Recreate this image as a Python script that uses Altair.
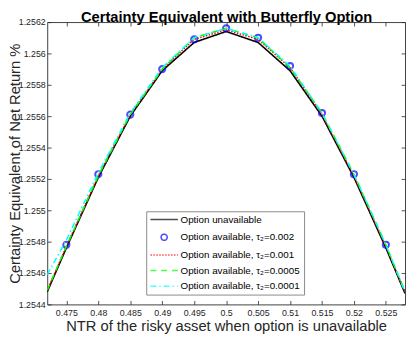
import altair as alt
import pandas as pd

# ---------------- data ----------------
x_line = [0.472, 0.475, 0.48, 0.485, 0.49, 0.495, 0.5, 0.505, 0.51, 0.515, 0.52, 0.525, 0.528]
ce_unavailable = [1.25448, 1.25476, 1.25521, 1.25560, 1.25589, 1.25607, 1.25614,
                  1.25607, 1.25589, 1.25560, 1.25521, 1.25476, 1.25447]
ce_tau_001 = [1.25449, 1.25477, 1.25522, 1.25561, 1.25590, 1.25609, 1.25615,
              1.25609, 1.25591, 1.25561, 1.25522, 1.25477, 1.25448]
ce_tau_0005 = [1.25449, 1.25477, 1.25522, 1.25561, 1.25590, 1.25610, 1.25616,
               1.25610, 1.25591, 1.25562, 1.25523, 1.25478, 1.25448]
ce_tau_0001 = [1.25459, 1.25481, 1.25524, 1.25562, 1.25591, 1.25610, 1.25616,
               1.25610, 1.25592, 1.25562, 1.25523, 1.25478, 1.25448]

x_points = [0.475, 0.48, 0.485, 0.49, 0.495, 0.5, 0.505, 0.51, 0.515, 0.52, 0.525]
ce_tau_002 = [1.25478, 1.25523, 1.25561, 1.25590, 1.25609, 1.25616,
              1.25610, 1.25592, 1.25562, 1.25523, 1.25478]

series = [
    "Option unavailable",
    "Option available, τ₂=0.002",
    "Option available, τ₂=0.001",
    "Option available, τ₂=0.0005",
    "Option available, τ₂=0.0001",
]
colors = ["#000000", "#0000ff", "#ff0000", "#00ff00", "#00ffff"]
dashes = [[1, 0], [1, 0], [1.5, 1.5], [6, 5], [6, 3, 1.5, 3]]
# legend symbols: a 28px line, and a circle centred on the same spot
LINE_SYM = "M-1.2,0H6.8"
CIRC_SYM = "M3.7,0A0.9,0.9 0 1,1 1.9,0A0.9,0.9 0 1,1 3.7,0Z"
shapes = [LINE_SYM, CIRC_SYM, LINE_SYM, LINE_SYM, LINE_SYM]

x_ticks = [0.475, 0.48, 0.485, 0.49, 0.495, 0.5, 0.505, 0.51, 0.515, 0.52, 0.525]
y_ticks = [1.2544, 1.2546, 1.2548, 1.255, 1.2552, 1.2554, 1.2556, 1.2558, 1.256, 1.2562]

# ---------------- tables ----------------
line_series = [(series[0], ce_unavailable), (series[2], ce_tau_001),
               (series[3], ce_tau_0005), (series[4], ce_tau_0001)]
frames = []
for name, vals in line_series:
    frames.append(pd.DataFrame({"x": x_line, "y": vals, "series": name}))
frames.append(pd.DataFrame({"x": x_points, "y": ce_tau_002, "series": series[1]}))
df = pd.concat(frames, ignore_index=True)

FONT = "Liberation Sans"
AXC = "#262626"

x_sc = alt.Scale(domain=[0.472, 0.528], nice=False, zero=False)
y_sc = alt.Scale(domain=[1.2544, 1.2562], nice=False, zero=False)
col_sc = alt.Scale(domain=series, range=colors)
dash_sc = alt.Scale(domain=series, range=dashes)
shape_sc = alt.Scale(domain=series, range=shapes)

legend = alt.Legend(title=None, orient="none", legendX=101, legendY=193)

ax_bottom = alt.Axis(orient="bottom", values=x_ticks, format="~g", offset=-4, tickSize=4,
                     domain=False, grid=False, labelPadding=4,
                     title="NTR of the risky asset when option is unavailable",
                     titleBaseline="alphabetic", titleY=31)
ax_left = alt.Axis(orient="left", values=y_ticks, format="~g", offset=-4, tickSize=4,
                   domain=False, grid=False, labelPadding=2,
                   title="Certainty Equivalent of Net Return %",
                   titleBaseline="alphabetic", titleX=-32)
ax_top = alt.Axis(orient="top", values=x_ticks, offset=-4, tickSize=4, domain=False,
                  grid=False, labels=False,
                  title="Certainty Equivalent with Butterfly Option",
                  titleFontWeight="bold", titleFontSize=15, titleColor="black",
                  titleBaseline="alphabetic", titleY=-4.3)
ax_right = alt.Axis(orient="right", values=y_ticks, offset=-4, tickSize=4, domain=False,
                    grid=False, labels=False, title=None)

base = alt.Chart(df)


def line_layer(name, width, x_axis=None, y_axis=None):
    return base.transform_filter(alt.datum.series == name).mark_line(
        strokeWidth=width, clip=True
    ).encode(
        x=alt.X("x:Q", scale=x_sc, axis=x_axis),
        y=alt.Y("y:Q", scale=y_sc, axis=y_axis),
        color=alt.Color("series:N", scale=col_sc, legend=legend),
        strokeDash=alt.StrokeDash("series:N", scale=dash_sc, legend=legend),
        order="x:Q",
    )


black = line_layer(series[0], 1.6, ax_bottom, ax_left)
points = base.transform_filter(alt.datum.series == series[1]).mark_point(
    filled=False, size=49, strokeWidth=2, xOffset=-9.8
).encode(
    x=alt.X("x:Q", scale=x_sc, axis=ax_top),
    y=alt.Y("y:Q", scale=y_sc, axis=ax_right),
    color=alt.Color("series:N", scale=col_sc, legend=legend),
    shape=alt.Shape("series:N", scale=shape_sc, legend=legend),
)
red = line_layer(series[2], 1.5)
green = line_layer(series[3], 1.5)
cyan = line_layer(series[4], 1.5)

chart = alt.layer(black, points, red, green, cyan).resolve_axis(
    x="independent", y="independent"
).properties(
    width=365, height=288,
    autosize=alt.AutoSizeParams(type="none"),
    padding={"left": 40, "top": 11, "right": 2, "bottom": 35},
).configure_view(
    stroke="#404040", strokeWidth=1
).configure_axis(
    labelFont=FONT, labelFontSize=9, labelColor=AXC, tickColor=AXC, tickWidth=0.8,
    titleFont=FONT, titleFontSize=15, titleFontWeight="normal", titleColor=AXC,
).configure_legend(
    labelFont=FONT, labelFontSize=10, labelColor="black", symbolSize=49,
    symbolStrokeWidth=1.5, labelOffset=21.5, rowPadding=6, padding=3.5,
    strokeColor="#8a8a8a", fillColor="white",
)

chart.save("out.html", embed_options={"renderer": "svg", "actions": False})
